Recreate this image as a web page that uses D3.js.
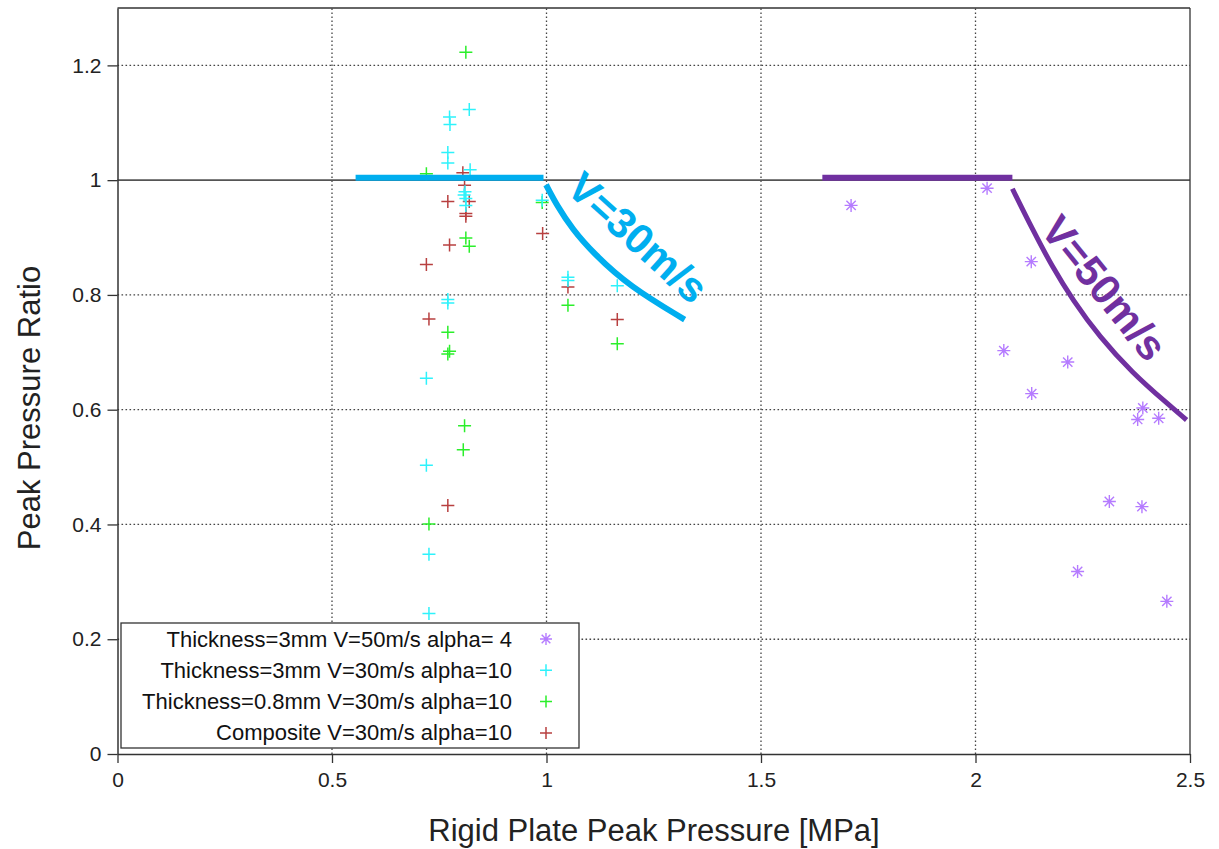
<!DOCTYPE html>
<html><head><meta charset="utf-8">
<script src="https://cdn.jsdelivr.net/npm/d3@7"></script>
<style>body{margin:0;background:#fff}svg{display:block}text{font-family:"Liberation Sans",Arial,sans-serif}</style>
</head><body><svg id="c" width="1219" height="849"></svg>
<script>
// ---- data ----
const xTicks = [0, 0.5, 1, 1.5, 2, 2.5];
const xTickLabels = ["0", "0.5", "1", "1.5", "2", "2.5"];
const yTicks = [0, 0.2, 0.4, 0.6, 0.8, 1, 1.2];
const yTickLabels = ["0", "0.2", "0.4", "0.6", "0.8", "1", "1.2"];
const seriesNames = ["Thickness=3mm V=50m/s alpha= 4", "Thickness=3mm V=30m/s alpha=10", "Thickness=0.8mm V=30m/s alpha=10", "Composite V=30m/s alpha=10"];
const thick3v50 = [[1.710,0.956],[2.027,0.986],[2.130,0.858],[2.066,0.703],[2.215,0.683],[2.131,0.628],[2.390,0.603],[2.378,0.583],[2.427,0.585],[2.312,0.440],[2.388,0.431],[2.238,0.318],[2.446,0.266]];
const thick3v30 = [[0.820,1.123],[0.774,1.110],[0.775,1.097],[0.770,1.048],[0.770,1.030],[0.822,1.018],[0.810,0.980],[0.808,0.974],[0.812,0.968],[0.812,0.956],[0.770,0.792],[0.770,0.786],[0.720,0.655],[0.720,0.503],[0.726,0.348],[0.726,0.245],[0.990,0.965],[1.050,0.831],[1.050,0.825],[1.165,0.816]];
const thick08v30 = [[0.812,1.223],[0.720,1.011],[0.812,0.899],[0.820,0.885],[0.770,0.735],[0.774,0.702],[0.770,0.697],[0.809,0.572],[0.806,0.530],[0.726,0.401],[0.990,0.961],[1.050,0.782],[1.165,0.715]];
const composite = [[0.805,1.013],[0.809,0.991],[0.820,0.963],[0.770,0.963],[0.812,0.942],[0.812,0.937],[0.774,0.887],[0.720,0.853],[0.726,0.758],[0.770,0.433],[0.991,0.907],[1.050,0.814],[1.165,0.757]];
const v30Flat = [[0.555,1.004],[0.993,1.004]];
const v30Curve = [[0.999,0.992],[1.025,0.955],[1.060,0.915],[1.110,0.872],[1.193,0.815],[1.322,0.757]];
const v50Flat = [[1.643,1.004],[2.086,1.004]];
const v50Curve = [[2.086,0.985],[2.133,0.914],[2.179,0.849],[2.226,0.792],[2.289,0.727],[2.366,0.664],[2.445,0.612],[2.492,0.582]];
const v30Label = {text:"V=30m/s", x:1.213, y:0.900, angle:42};
const v50Label = {text:"V=50m/s", x:2.300, y:0.812, angle:51};

// ---- layout ----
const W=1219,H=849, L=117.5, R=1190, T=8, B=754;
const svg=d3.select("#c");
const x=d3.scaleLinear().domain([0,2.5]).range([L,R]);
const y=d3.scaleLinear().domain([0,1.3]).range([B,T]);
const dark="#333";

// grid
const g=svg.append("g");
g.selectAll(".gx").data(xTicks.filter(d=>d>0&&d<2.5)).join("line")
 .attr("x1",d=>x(d)).attr("x2",d=>x(d)).attr("y1",B).attr("y2",T)
 .attr("stroke","#444").attr("stroke-width",1.3).attr("stroke-dasharray","1.6,2.4");
g.selectAll(".gy").data(yTicks.filter(d=>d>0&&d!==1)).join("line")
 .attr("x1",L).attr("x2",R).attr("y1",d=>y(d)).attr("y2",d=>y(d))
 .attr("stroke","#444").attr("stroke-width",1.3).attr("stroke-dasharray","1.6,2.4");
g.append("line").attr("x1",L).attr("x2",R).attr("y1",y(1)).attr("y2",y(1))
 .attr("stroke","#555").attr("stroke-width",1.6);

// axes
const xa=svg.append("g").attr("transform",`translate(0,${B})`)
 .call(d3.axisBottom(x).tickValues(xTicks).tickFormat((d,i)=>xTickLabels[i]).tickSizeInner(9).tickSizeOuter(0).tickPadding(9));
const ya=svg.append("g").attr("transform",`translate(${L},0)`)
 .call(d3.axisLeft(y).tickValues(yTicks).tickFormat((d,i)=>yTickLabels[i]).tickSizeInner(10).tickSizeOuter(0).tickPadding(6));
[xa,ya].forEach(a=>{a.select(".domain").attr("stroke",dark).attr("stroke-width",1.5);
 a.selectAll(".tick line").attr("stroke",dark).attr("stroke-width",1.3);
 a.selectAll(".tick text").attr("fill","#222").style("font-size","21px");});
// frame top/right
svg.append("line").attr("x1",L).attr("x2",R).attr("y1",T).attr("y2",T).attr("stroke",dark).attr("stroke-width",1.3);
svg.append("line").attr("x1",R).attr("x2",R).attr("y1",T).attr("y2",B).attr("stroke",dark).attr("stroke-width",1.3);

// titles
svg.append("text").attr("x",654).attr("y",841).attr("text-anchor","middle").attr("fill","#222")
 .style("font-size","31px").text("Rigid Plate Peak Pressure [MPa]");
svg.append("text").attr("transform",`translate(40,408) rotate(-90)`).attr("text-anchor","middle").attr("fill","#222")
 .style("font-size","31px").text("Peak Pressure Ratio");

// markers
const colors=["#b57bff","#2ef2fb","#2bef2b","#b84040"];
function plus(sel,c,s){sel.append("path").attr("d",`M${-s},0H${s}M0,${-s}V${s}`).attr("stroke",c).attr("stroke-width",1.5).attr("fill","none");}
function star(sel,c,s){const d=s*0.72;sel.append("path").attr("d",`M${-s},0H${s}M0,${-s}V${s}M${-d},${-d}L${d},${d}M${-d},${d}L${d},${-d}`).attr("stroke",c).attr("stroke-width",1.4).attr("fill","none");}
const series=[thick3v50,thick3v30,thick08v30,composite];
const mg=svg.append("g");
[3,2,1,0].forEach(k=>{
 series[k].forEach(p=>{const s=mg.append("g").attr("transform",`translate(${x(p[0])},${y(p[1])})`);
  if(k===0) star(s,colors[k],6.5); else plus(s,colors[k],6.5);});
});

// annotations
const line=d3.line().x(d=>x(d[0])).y(d=>y(d[1]));
const curve=d3.line().x(d=>x(d[0])).y(d=>y(d[1])).curve(d3.curveBasis);
const blue="#00aeef", purple="#7030a0";
svg.append("path").attr("d",line(v30Flat)).attr("stroke",blue).attr("stroke-width",6).attr("fill","none");
svg.append("path").attr("d",curve(v30Curve)).attr("stroke",blue).attr("stroke-width",6).attr("fill","none");
svg.append("path").attr("d",line(v50Flat)).attr("stroke",purple).attr("stroke-width",6).attr("fill","none");
svg.append("path").attr("d",curve(v50Curve)).attr("stroke",purple).attr("stroke-width",5).attr("fill","none");
[[v30Label,blue],[v50Label,purple]].forEach(([lb,c])=>{
 svg.append("text").attr("transform",`translate(${x(lb.x)},${y(lb.y)}) rotate(${lb.angle})`)
  .attr("text-anchor","middle").attr("dominant-baseline","central").attr("fill",c)
  .style("font-size","42px").style("font-weight","bold").text(lb.text);
});

// legend
const lg=svg.append("g");
lg.append("rect").attr("x",121).attr("y",623).attr("width",458).attr("height",125).attr("fill","#fff").attr("stroke",dark).attr("stroke-width",1.3);
seriesNames.forEach((n,i)=>{
 const yy=639+i*31.3;
 lg.append("text").attr("x",512).attr("y",yy).attr("text-anchor","end").attr("dominant-baseline","central")
  .attr("fill","#111").style("font-size","22px").text(n);
 const s=lg.append("g").attr("transform",`translate(546,${yy})`);
 if(i===0) star(s,colors[i],6); else plus(s,colors[i],6);
});
</script></body></html>
